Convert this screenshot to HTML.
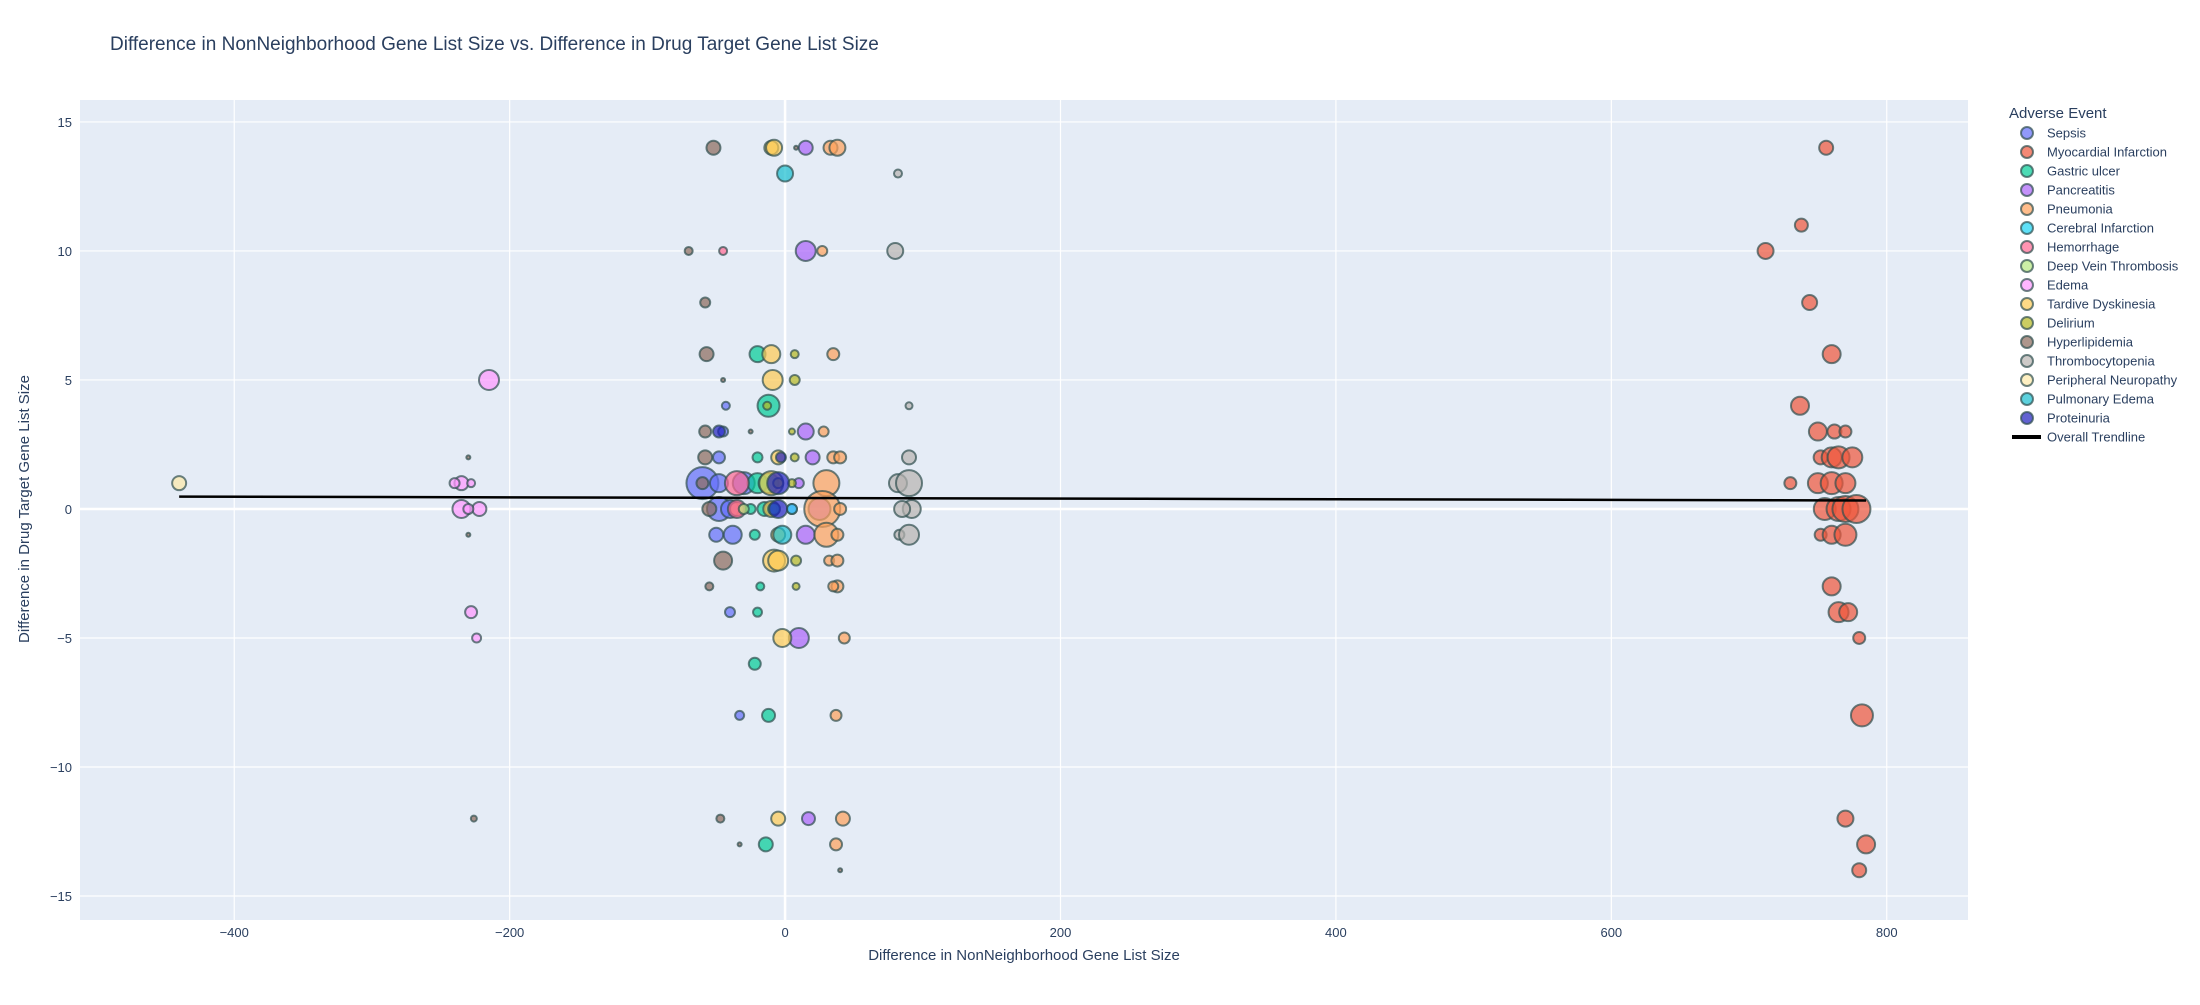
<!DOCTYPE html>
<html><head><meta charset="utf-8"><style>
body{margin:0;background:#fff;font-family:"Liberation Sans",Arial,sans-serif;}
svg text{font-family:"Liberation Sans",Arial,sans-serif;fill:#2a3f5f;}
</style></head><body>
<svg id="chart" width="2200" height="1000" xmlns="http://www.w3.org/2000/svg">
<rect x="0" y="0" width="2200" height="1000" fill="#fff"/>
<text x="110" y="50" font-size="19">Difference in NonNeighborhood Gene List Size vs. Difference in Drug Target Gene List Size</text>
<rect x="80" y="100" width="1888" height="820" fill="#e5ecf6"/>
<g id="grid"></g><g id="marks"></g><g id="axes"></g><g id="legend"></g>
<text x="1024" y="960" font-size="15" text-anchor="middle">Difference in NonNeighborhood Gene List Size</text>
<text transform="translate(29,509) rotate(-90)" font-size="15" text-anchor="middle">Difference in Drug Target Gene List Size</text>
</svg>
<script>
const seriesNames=["Sepsis","Myocardial Infarction","Gastric ulcer","Pancreatitis","Pneumonia","Cerebral Infarction","Hemorrhage","Deep Vein Thrombosis","Edema","Tardive Dyskinesia","Delirium","Hyperlipidemia","Thrombocytopenia","Peripheral Neuropathy","Pulmonary Edema","Proteinuria"];
const seriesColors=["#636efa","#EF553B","#00cc96","#ab63fa","#FFA15A","#19d3f3","#FF6692","#B6E880","#FF97FF","#FECB52","#b5b820","#8c6a5b","#b8b4b0","#fde9a8","#17becf","#1f1fbf"];
const sepsis=[[-60,1,32],[-48,0,24],[-50,-1,14],[-38,-1,18],[-45,3,10],[-48,2,12],[-43,4,8],[-40,-4,10],[-33,-8,9],[-30,1,22],[-48,1,18],[-40,0,18]];
const myocardial=[[756,14,14],[738,11,13],[712,10,16],[744,8,15],[760,6,18],[737,4,18],[750,3,18],[762,3,14],[770,3,12],[752,2,14],[760,2,20],[765,2,22],[775,2,20],[730,1,12],[750,1,20],[760,1,22],[770,1,20],[755,0,22],[765,0,24],[770,0,26],[778,0,28],[752,-1,12],[760,-1,18],[770,-1,22],[760,-3,18],[765,-4,20],[772,-4,18],[780,-5,12],[782,-8,22],[770,-12,16],[785,-13,18],[780,-14,14]];
const gastric=[[-20,6,16],[-12,4,22],[-20,2,10],[-25,0,10],[-20,1,20],[-12,1,20],[-22,-1,10],[-20,-4,9],[-22,-6,12],[-12,-8,13],[-14,-13,14],[-18,-3,8],[-15,0,14]];
const pancreatitis=[[15,14,14],[15,10,20],[15,3,16],[10,1,10],[15,-1,18],[10,-5,20],[17,-12,13],[25,0,22],[20,2,14],[5,0,10]];
const pneumonia=[[33,14,14],[38,14,16],[27,10,10],[35,6,12],[28,3,10],[35,2,12],[40,2,12],[30,1,26],[27,0,36],[30,-1,24],[38,-1,12],[32,-2,10],[38,-2,12],[38,-3,12],[35,-3,10],[43,-5,11],[37,-8,11],[42,-12,14],[37,-13,12],[-35,0,14],[40,0,12]];
const cerebral=[[-10,0,12],[5,0,10]];
const hemorrhage=[[-45,10,8],[-35,1,24],[-35,0,18]];
const dvt=[[-30,0,10]];
const edema=[[-235,1,14],[-240,1,10],[-235,0,18],[-222,0,14],[-228,1,8],[-230,0,10],[-228,-4,12],[-224,-5,9],[-215,5,20]];
const tardive=[[-10,14,14],[-8,14,16],[-10,6,18],[-9,5,20],[-5,2,14],[-10,1,24],[-10,0,16],[-5,-1,14],[-8,-2,22],[-5,-2,20],[-2,-5,18],[-5,-12,14]];
const delirium=[[7,6,8],[7,5,10],[-13,4,8],[5,3,6],[8,-2,10],[8,-3,7],[5,1,8],[7,2,8],[-5,1,10]];
const hyperlipidemia=[[-52,14,14],[-70,10,8],[-58,8,10],[-57,6,14],[-58,3,12],[-58,2,14],[-55,0,14],[-45,-2,18],[-55,-3,8],[-47,-12,8],[-230,2,4],[-230,-1,4],[-226,-12,6],[-45,5,4],[-25,3,4],[40,-14,4],[-33,-13,4],[8,14,4],[-60,1,12]];
const thrombo=[[82,13,8],[80,10,16],[90,4,7],[90,2,14],[82,1,18],[90,1,26],[92,0,18],[85,0,16],[83,-1,10],[90,-1,20]];
const periph=[[-440,1,14]];
const pulmonary=[[0,13,16],[-2,-1,18],[-8,0,12]];
const proteinuria=[[-5,1,22],[-48,3,12],[-3,2,10],[-5,0,18]];
const allSeries=[sepsis,myocardial,gastric,pancreatitis,pneumonia,cerebral,hemorrhage,dvt,edema,tardive,delirium,hyperlipidemia,thrombo,periph,pulmonary,proteinuria];
const xTicks=[-400,-200,0,200,400,600,800];
const yTicks=[-15,-10,-5,0,5,10,15];
const trendX=[-440,785];
const trendY=[0.48,0.33];

const NS="http://www.w3.org/2000/svg";
const X0=80,X1=1968,Y0=100,Y1=920,xmin=-512,xmax=859,ymin=-15.93,ymax=15.85;
function sx(v){return X0+(v-xmin)/(xmax-xmin)*(X1-X0);}
function sy(v){return Y1-(v-ymin)/(ymax-ymin)*(Y1-Y0);}
function mk(tag,attrs,parent,txt){const e=document.createElementNS(NS,tag);for(const k in attrs)e.setAttribute(k,attrs[k]);if(txt!==undefined)e.textContent=txt;parent.appendChild(e);return e;}
const grid=document.getElementById('grid'),axes=document.getElementById('axes'),marks=document.getElementById('marks'),legend=document.getElementById('legend');
xTicks.forEach(t=>{
  const l=mk('line',{x1:sx(t),x2:sx(t),y1:Y0,y2:Y1,stroke:'#fff','stroke-width':t===0?2.5:1.2},grid);
  
  
  const tx=mk('text',{x:sx(t),y:Y1+17,'font-size':13,'text-anchor':'middle'},axes,t<0?'\u2212'+Math.abs(t):String(t));
  
  
});
yTicks.forEach(t=>{
  const l=mk('line',{x1:X0,x2:X1,y1:sy(t),y2:sy(t),stroke:'#fff','stroke-width':t===0?2.5:1.2},grid);
  
  
  const tx=mk('text',{x:X0-8,y:sy(t)+5,'font-size':13,'text-anchor':'end'},axes,t<0?'\u2212'+Math.abs(t):String(t));
  
  
});
allSeries.forEach((s,i)=>{
  s.forEach(p=>{
    const c=mk('circle',{cx:sx(p[0]),cy:sy(p[1]),r:p[2]/2,fill:seriesColors[i],'fill-opacity':0.7,stroke:'#2f4f4f','stroke-opacity':0.7,'stroke-width':2},marks);
    
    
  });
});
const tl=mk('line',{x1:sx(trendX[0]),y1:sy(trendY[0]),x2:sx(trendX[1]),y2:sy(trendY[1]),stroke:'#000','stroke-width':2.5},marks);


const lt=mk('text',{x:2009,y:118,'font-size':15},legend,'Adverse Event');


seriesNames.forEach((n,i)=>{
  const y=133+i*19;
  const g=mk('g',{},legend);
  
  
  mk('circle',{cx:2027,cy:y,r:6,fill:seriesColors[i],'fill-opacity':0.7,stroke:'#2f4f4f','stroke-opacity':0.7,'stroke-width':2},g);
  mk('text',{x:2047,y:y+4.5,'font-size':13},g,n);
});
const g=mk('g',{},legend);


const ly=133+16*19;
mk('line',{x1:2012,x2:2041,y1:ly,y2:ly,stroke:'#000','stroke-width':4},g);
mk('text',{x:2047,y:ly+4.5,'font-size':13},g,'Overall Trendline');
</script>
</body></html>
